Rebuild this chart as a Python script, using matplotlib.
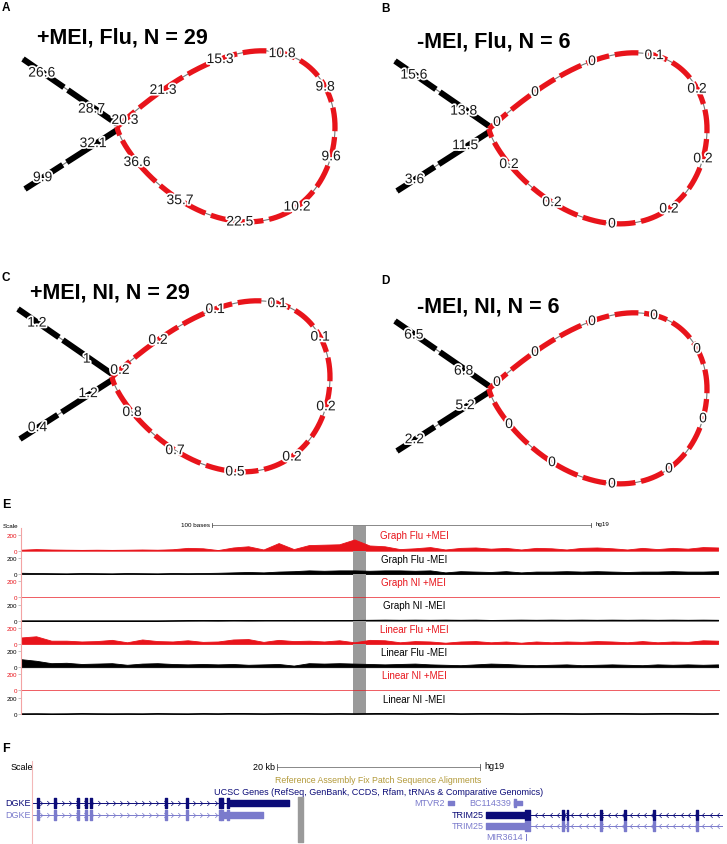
import numpy as np
import matplotlib
matplotlib.use('Agg')
import matplotlib.pyplot as plt
import matplotlib.patheffects as pe

plt.rcParams['font.family'] = ['Liberation Sans', 'DejaVu Sans']

# ---- panels A-D: variation graphs ----
titles = ['+MEI, Flu, N = 29', '-MEI, Flu, N = 6', '+MEI, NI, N = 29', '-MEI, NI, N = 6']
panel_letters = ['A', 'B', 'C', 'D']
# loop edges, clockwise from the junction (upper branch first)
loop_labels = [
    ['20.3', '21.3', '15.3', '10.8', '9.8', '9.6', '10.2', '22.5', '35.7', '36.6'],
    ['0', '0', '0', '0.1', '0.2', '0.2', '0.2', '0', '0.2', '0.2'],
    ['0.2', '0.2', '0.1', '0.1', '0.1', '0.2', '0.2', '0.5', '0.7', '0.8'],
    ['0', '0', '0', '0', '0', '0', '0', '0', '0', '0'],
]
# flanking edges: upper outer, upper inner, lower inner, lower outer
arm_labels = [
    ['26.6', '28.7', '32.1', '9.9'],
    ['15.6', '13.8', '11.5', '3.6'],
    ['1.2', '1', '1.2', '0.4'],
    ['6.5', '6.8', '5.2', '2.2'],
]

# ---- panel E: coverage tracks ----
track_names = ['Graph Flu +MEI', 'Graph Flu -MEI', 'Graph NI +MEI', 'Graph NI -MEI',
               'Linear Flu +MEI', 'Linear Flu -MEI', 'Linear NI +MEI', 'Linear NI -MEI']
track_colors = ['red', 'black'] * 4
bases = np.arange(0, 185, 4)
graph_flu_pos = [12, 20, 15, 12, 10, 12, 10, 12, 15, 12, 18, 35, 30, 8, 40, 55, 15, 95, 20, 70,
                 75, 80, 140, 65, 55, 20, 30, 45, 15, 35, 40, 25, 35, 15, 35, 30, 15, 35, 40, 30,
                 15, 35, 20, 35, 25, 45, 40]
graph_flu_neg = [15, 12, 10, 8, 12, 10, 8, 12, 10, 8, 12, 10, 12, 15, 20, 25, 20, 30, 35, 45,
                 40, 45, 45, 40, 45, 45, 40, 45, 20, 35, 30, 25, 35, 20, 30, 30, 35, 30, 35, 30,
                 25, 30, 30, 35, 30, 30, 35]
graph_ni_pos = [0] * 47
graph_ni_neg = [0, 0, 0, 0, 0, 0, 0, 0, 0, 0, 2, 4, 5, 4, 6, 5, 6, 8, 6, 8,
                6, 8, 8, 10, 12, 10, 12, 10, 12, 10, 12, 8, 10, 12, 10, 12, 10, 12, 10, 12,
                10, 12, 10, 12, 10, 12, 10]
linear_flu_pos = [80, 95, 40, 40, 30, 35, 50, 20, 55, 35, 30, 45, 25, 30, 55, 60, 25, 50, 35, 40,
                  30, 45, 20, 50, 45, 20, 35, 30, 15, 30, 35, 20, 30, 15, 30, 20, 30, 25, 35, 30,
                  20, 35, 20, 30, 25, 45, 40]
linear_flu_neg = [100, 80, 50, 55, 40, 45, 50, 30, 45, 50, 40, 35, 40, 35, 40, 30, 35, 40, 20, 50,
                  45, 50, 45, 40, 35, 40, 45, 35, 30, 25, 35, 45, 40, 30, 25, 30, 35, 25, 30, 35,
                  30, 25, 35, 30, 35, 30, 35]
linear_ni_pos = [0] * 47
linear_ni_neg = [5, 6, 4, 5, 8, 6, 5, 6, 5, 8, 6, 5, 8, 6, 10, 8, 6, 8, 10, 8,
                 6, 8, 6, 8, 10, 8, 6, 8, 10, 6, 8, 10, 8, 6, 8, 10, 8, 6, 8, 10,
                 8, 6, 8, 10, 8, 6, 8]
coverage = [graph_flu_pos, graph_flu_neg, graph_ni_pos, graph_ni_neg,
            linear_flu_pos, linear_flu_neg, linear_ni_pos, linear_ni_neg]
highlight = (87.6, 91.0)
scale_bases = (50.4, 150.4)

# ---- panel F: genes (kb) ----
dgke_exons = [0.6, 2.3, 4.55, 5.35, 5.85, 13.25, 15.35, 18.6, 18.8, 19.4]
dgke_blocks = [(19.4, 25.45), (18.9, 22.9)]
trim25_exons = [52.6, 53.0, 56.3, 58.7, 61.6, 65.8]
trim25_block = (44.95, 48.8)
trim25_cap = (48.8, 49.3)
mtvr2 = (41.2, 41.8)
bc114339 = (47.7, 48.5)
mir3614 = 48.9
fix_patch = (26.3, 26.8)
scale_kb = (24.25, 44.35)

W, H = 727, 845
RED = '#e8141b'
NAVY = '#0c0c78'
LIGHT = '#7b7bcc'

fig = plt.figure(figsize=(W / 100, H / 100), dpi=100)


def px_axes(x0, y0, w, h):
    return fig.add_axes([x0 / W, 1 - (y0 + h) / H, w / W, h / H])


halo = [pe.withStroke(linewidth=2.5, foreground='white')]

# loop shape around the junction, in pixels
t = np.linspace(0, 2 * np.pi, 800)
lx = 109 * (1 - np.cos(t))
ly = np.where(t <= np.pi, 99 * np.sin(t) * np.sin(t / 2),
              110 * np.sin(t) * np.sqrt(np.abs(np.sin(t / 2))))
label_t = [0.385, 0.955, 1.516, 2.111, 2.711, 3.413, 4.003, 4.584, 5.148, 5.667]

boxes = [(0, 0, 364, 255), (364, 0, 363, 255), (0, 255, 364, 245), (364, 255, 363, 245)]
junctions = [(117, 128), (489, 130), (112, 378), (489, 390)]
title_pos = [(-80, 90), (-72, 88), (-82, 85), (-72, 83)]
letter_pos = [(2, 8), (381, 9), (2, 278), (381, 281)]

for k in range(4):
    x0, y0, w, h = boxes[k]
    jx, jy = junctions[k]
    ax = px_axes(x0, y0, w, h)
    ax.set_xlim(x0 - jx, x0 + w - jx)
    ax.set_ylim(jy - (y0 + h), jy - y0)
    ax.axis('off')

    # flanking arms
    for (sx, sy), (ex, ey) in [((0, 3), (-94, 68)), ((0, -3), (-92, -62))]:
        ax.plot([sx, ex], [sy, ey], color='#777777', lw=0.8, zorder=1)
        ax.plot([sx, ex], [sy, ey], color='black', lw=4.3, dashes=(10, 0.8),
                solid_capstyle='butt', dash_capstyle='butt', zorder=2)
    # loop
    ax.plot(lx, ly, color='#777777', lw=0.8, zorder=1)
    ax.plot(lx, ly, color=RED, lw=3.8, dashes=(4.5, 1.1),
            dash_capstyle='butt', zorder=2)

    for lab, tt in zip(loop_labels[k], label_t):
        px = 109 * (1 - np.cos(tt))
        if tt <= np.pi:
            py = 99 * np.sin(tt) * np.sin(tt / 2)
        else:
            py = 110 * np.sin(tt) * np.sqrt(abs(np.sin(tt / 2)))
        ax.text(px, py, lab, ha='center', va='center', fontsize=10, color='#1a1a1a',
                path_effects=halo, zorder=5)
    arm_fracs = [((-94, 68), 0.8), ((-94, 68), 0.27), ((-92, -62), 0.26), ((-92, -62), 0.81)]
    for lab, ((ex, ey), f) in zip(arm_labels[k], arm_fracs):
        ax.text(ex * f, ey * f, lab, ha='center', va='center', fontsize=10,
                color='#1a1a1a', path_effects=halo, zorder=5)

    tx, ty = title_pos[k]
    ax.text(tx, ty, titles[k], ha='left', va='center', fontsize=15.5, fontweight='bold')
    lx0, ly0 = letter_pos[k]
    fig.text(lx0 / W, 1 - ly0 / H, panel_letters[k], ha='left', va='center',
             fontsize=8.5, fontweight='bold')

# ---- panel E ----
fig.text(2 / W, 1 - 505 / H, 'E', ha='left', va='center', fontsize=9, fontweight='bold')
fig.text(3 / W, 1 - 527 / H, 'Scale', ha='left', va='center', fontsize=4.5)

sax = px_axes(21, 518, 699, 10.7)
sax.set_xlim(0, 184.5)
sax.set_ylim(0, 10.7)
sax.axis('off')
sax.plot(scale_bases, [2.7, 2.7], color='#888888', lw=0.7)
for xb in scale_bases:
    sax.plot([xb, xb], [0.7, 4.7], color='#555555', lw=0.6)
sax.text(scale_bases[0] - 0.6, 3.2, '100 bases', ha='right', va='center', fontsize=4.5)
sax.text(scale_bases[1] + 1.2, 4.0, 'hg19', ha='left', va='center', fontsize=4.5)
sax.axvspan(highlight[0], highlight[1], ymin=0, ymax=0.2, color='#9a9a9a', lw=0)

step = 23.3
for i, (name, vals, c) in enumerate(zip(track_names, coverage, track_colors)):
    col = RED if c == 'red' else 'black'
    base_y = 552 + step * i
    ax = px_axes(21, base_y - step, 699, step)
    ax.set_xlim(0, 184.5)
    ax.set_ylim(-4, 287)
    ax.patch.set_alpha(0)
    ax.axvspan(highlight[0], highlight[1], color='#9a9a9a', lw=0, zorder=0)
    if max(vals) > 0:
        ax.fill_between(bases, 0, vals, color=col, lw=0.6, zorder=2)
    else:
        ax.axhline(0, color=col, lw=0.6, alpha=0.8, zorder=2)
    for s in ['top', 'right', 'bottom']:
        ax.spines[s].set_visible(False)
    ax.spines['left'].set_color('#f3a3a3')
    ax.spines['left'].set_linewidth(0.8)
    ax.set_xticks([])
    ax.set_yticks([0, 200])
    ax.set_yticklabels(['0', '200'], fontsize=4.5, color=col)
    ax.tick_params(axis='y', length=2, width=0.4, color='#999999', pad=1)
    ax.text(103.7, 190, name, ha='center', va='center', fontsize=7, color=col)

# ---- panel F ----
fig.text(2 / W, 1 - 749 / H, 'F', ha='left', va='center', fontsize=9, fontweight='bold')
fig.text(11 / W, 1 - 768 / H, 'Scale', ha='left', va='center', fontsize=6.5)

fx = px_axes(32, 762, 691, 83)
fx.set_xlim(0, 68.4)
fx.set_ylim(845, 762)
for s in ['top', 'right', 'bottom']:
    fx.spines[s].set_visible(False)
fx.spines['left'].set_color('#f3b8b8')
fx.spines['left'].set_linewidth(0.8)
fx.set_xticks([])
fx.set_yticks([])
fx.patch.set_alpha(0)

# scale bar
fx.plot(scale_kb, [767.7, 767.7], color='#888888', lw=0.7)
for xb in scale_kb:
    fx.plot([xb, xb], [764.5, 771], color='#555555', lw=0.6)
fx.text(scale_kb[0] - 0.2, 767.7, '20 kb', ha='right', va='center', fontsize=6.5)
fx.text(scale_kb[1] + 0.4, 766.5, 'hg19', ha='left', va='center', fontsize=6.5)

fx.text(34.25, 781, 'Reference Assembly Fix Patch Sequence Alignments',
        ha='center', va='center', fontsize=6.3, color='#b39a3a')
fx.text(34.35, 792.5, 'UCSC Genes (RefSeq, GenBank, CCDS, Rfam, tRNAs & Comparative Genomics)',
        ha='center', va='center', fontsize=6.5, color=NAVY)
fx.broken_barh([(fix_patch[0], fix_patch[1] - fix_patch[0])], (798.3, 45), color='#9a9a9a')

rows = [804, 816, 826.5, 838]
right_chev = [(-0.5, 1), (0.5, 0), (-0.5, -1)]
left_chev = [(0.5, 1), (-0.5, 0), (0.5, -1)]

# DGKE (two transcripts)
for r, colr, blk in [(0, NAVY, dgke_blocks[0]), (1, LIGHT, dgke_blocks[1])]:
    y = rows[r]
    fx.plot([0, blk[0]], [y, y], color=colr, lw=0.7)
    chev = np.arange(0.9, blk[0] - 0.3, 0.72)
    fx.plot(chev, [y] * len(chev), ls='none', marker=right_chev, ms=3.5,
            mfc='none', mec=colr, mew=0.5)
    fx.broken_barh([(x - 0.09, 0.18) for x in dgke_exons], (y - 5, 10), color=colr)
    fx.broken_barh([(blk[0], blk[1] - blk[0])], (y - 3, 6), color=colr)
    fx.text(-0.1, y, 'DGKE', ha='right', va='center', fontsize=6.5, color=colr)

# TRIM25 (two transcripts)
for r, colr in [(1, NAVY), (2, LIGHT)]:
    y = rows[r]
    fx.plot([trim25_cap[1], 68.4], [y, y], color=colr, lw=0.7)
    chev = np.arange(trim25_cap[1] + 0.6, 68.2, 0.72)
    fx.plot(chev, [y] * len(chev), ls='none', marker=left_chev, ms=3.5,
            mfc='none', mec=colr, mew=0.5)
    fx.broken_barh([(x - 0.09, 0.18) for x in trim25_exons], (y - 5, 10), color=colr)
    fx.broken_barh([(trim25_block[0], trim25_block[1] - trim25_block[0])], (y - 3, 6), color=colr)
    fx.broken_barh([(trim25_cap[0], trim25_cap[1] - trim25_cap[0])], (y - 5, 10), color=colr)
    fx.text(trim25_block[0] - 0.2, y, 'TRIM25', ha='right', va='center', fontsize=6.5,
            color=colr)

# small genes
fx.broken_barh([(mtvr2[0], mtvr2[1] - mtvr2[0])], (rows[0] - 2.2, 4.4), color=LIGHT)
fx.text(mtvr2[0] - 0.3, rows[0], 'MTVR2', ha='right', va='center', fontsize=6.5, color=LIGHT)
fx.broken_barh([(bc114339[0], bc114339[1] - bc114339[0])], (rows[0] - 2.2, 4.4), color=LIGHT)
fx.broken_barh([(bc114339[0], 0.25)], (rows[0] - 4, 8), color=LIGHT)
fx.text(bc114339[0] - 0.3, rows[0], 'BC114339', ha='right', va='center', fontsize=6.5,
        color=LIGHT)
fx.plot([mir3614, mir3614], [rows[3] - 3, rows[3] + 3], color=LIGHT, lw=0.7)
fx.text(mir3614 - 0.3, rows[3], 'MIR3614', ha='right', va='center', fontsize=6.5, color=LIGHT)

fig.savefig('out.png', dpi=100)
